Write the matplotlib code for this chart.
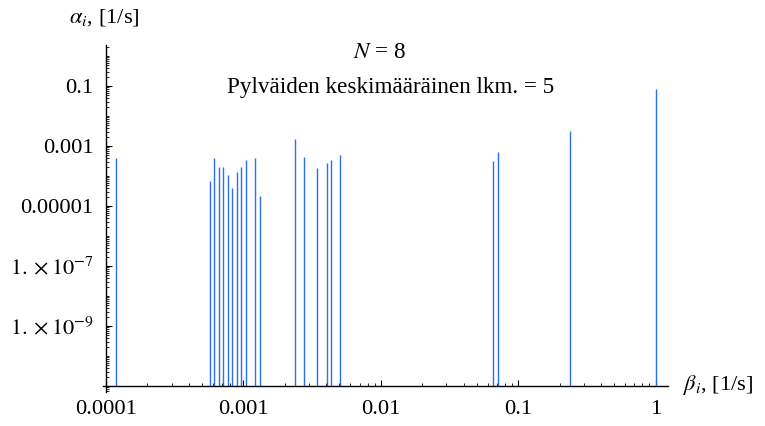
import numpy as np
import matplotlib
matplotlib.use("Agg")
import matplotlib.pyplot as plt
from matplotlib.ticker import FixedLocator, FixedFormatter, LogLocator, NullFormatter

plt.rcParams['font.family'] = ['Liberation Serif', 'DejaVu Serif']
plt.rcParams['mathtext.fontset'] = 'stix'

# data
beta = [1.18e-4, 5.72e-4, 6.14e-4, 6.64e-4, 7.14e-4, 7.72e-4, 8.30e-4, 8.93e-4,
        9.66e-4, 1.04e-3, 1.21e-3, 1.31e-3, 2.39e-3, 2.77e-3, 3.45e-3, 4.04e-3,
        4.37e-3, 5.07e-3, 0.0659, 0.0710, 0.238, 1.0]
alpha = [3.9e-4, 6.8e-5, 4.0e-4, 2.04e-4, 1.95e-4, 1.05e-4, 4.0e-5, 1.36e-4,
         2.0e-4, 3.4e-4, 3.9e-4, 2.1e-5, 1.75e-3, 4.4e-4, 1.85e-4, 2.7e-4,
         3.3e-4, 5.0e-4, 3.2e-4, 6.5e-4, 3.16e-3, 0.078]
x_ticks = [1e-4, 1e-3, 1e-2, 1e-1, 1.0]
x_tick_labels = ['0.0001', '0.001', '0.01', '0.1', '1']
y_ticks = [1e-9, 1e-7, 1e-5, 1e-3, 1e-1]
y_tick_labels = [r'$1.\times10^{-9}$', r'$1.\times10^{-7}$', '0.00001', '0.001', '0.1']
title_line1 = r'$N$ = 8'
title_line2 = 'Pylväiden keskimääräinen lkm. = 5'
x_label = r'$\beta_i$, [1/s]'
y_label = r'$\alpha_i$, [1/s]'
base = 1e-11

W, H = 765, 426
fig = plt.figure(figsize=(W / 100, H / 100), dpi=100)
L, R, B, T = 103, 668, 392, 45
ax = fig.add_axes([L / W, 1 - B / H, (R - L) / W, (B - T) / H])
ax.set_xscale('log')
ax.set_yscale('log')
ax.set_xlim(10 ** -4.022, 10 ** 0.090)
ax.set_ylim(10 ** -11.2, 10 ** 0.367)

ax.vlines(beta, base, alpha, colors='#2b6ef6', linewidth=1.0)

for s in ['top', 'right']:
    ax.spines[s].set_visible(False)
ax.spines['left'].set_position(('data', 1e-4))
ax.spines['bottom'].set_position(('data', base))
for s in ['left', 'bottom']:
    ax.spines[s].set_linewidth(1.0)
    ax.spines[s].set_color('black')

ax.xaxis.set_major_locator(FixedLocator(x_ticks))
ax.xaxis.set_major_formatter(FixedFormatter(x_tick_labels))
ax.xaxis.set_minor_locator(LogLocator(base=10, subs=np.arange(2, 10)))
ax.xaxis.set_minor_formatter(NullFormatter())
ax.yaxis.set_major_locator(FixedLocator(y_ticks))
ax.yaxis.set_major_formatter(FixedFormatter(y_tick_labels))
ax.yaxis.set_minor_locator(LogLocator(base=10, subs=np.arange(1, 10), numticks=50))
ax.yaxis.set_minor_formatter(NullFormatter())

ax.tick_params(which='major', direction='in', length=4, width=0.8, labelsize=16.2)
ax.tick_params(axis='x', which='major', pad=10)
ax.tick_params(axis='y', which='major', pad=9)
ax.tick_params(which='minor', direction='in', length=2, width=0.6)
ax.patch.set_visible(False)

fig.text(104 / W, 1 - 18 / H, y_label, ha='center', va='center', fontsize=16.2)
fig.text(683 / W, 1 - 385 / H, x_label, ha='left', va='center', fontsize=16.2)
fig.text(380 / W, 1 - 53 / H, title_line1, ha='center', va='center', fontsize=16.7)
fig.text(391 / W, 1 - 87 / H, title_line2, ha='center', va='center', fontsize=16.7)

fig.savefig('out.png', dpi=100)
